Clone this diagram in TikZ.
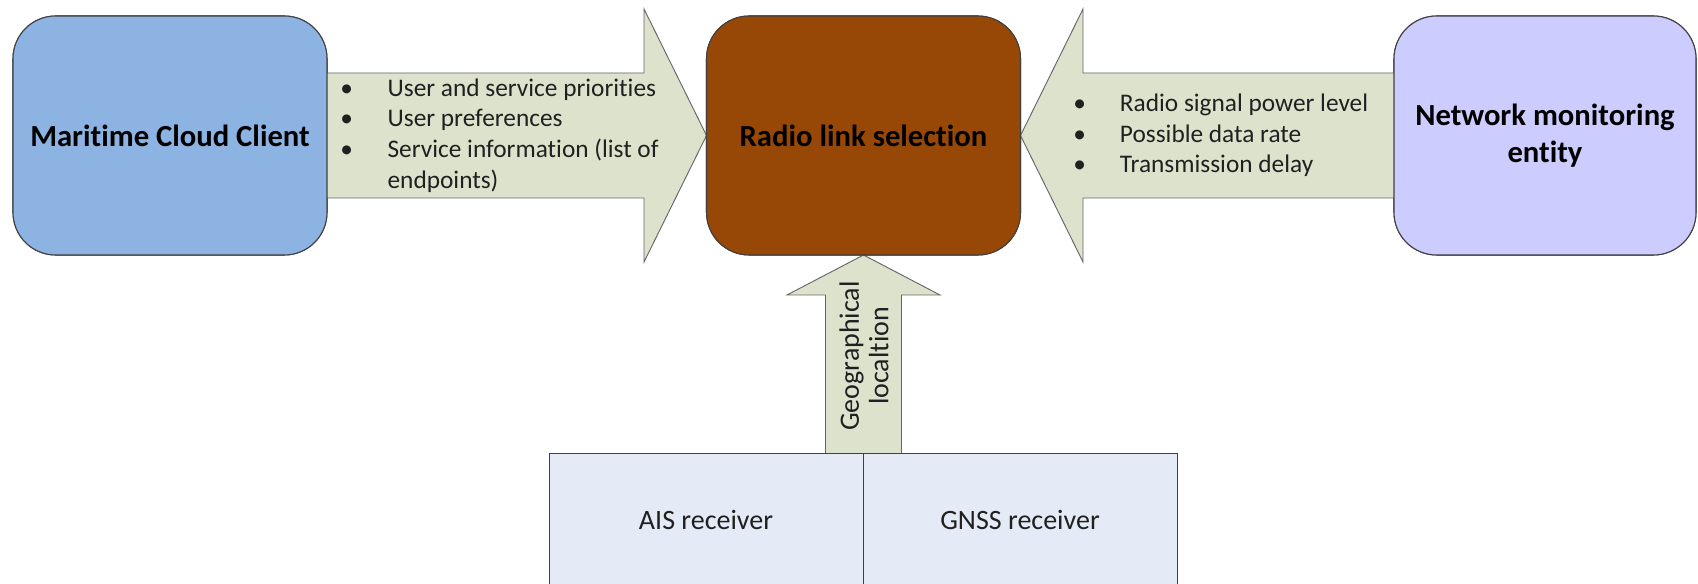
\documentclass[tikz,border=0pt]{standalone}
\usepackage{fontspec}
\setmainfont[Ligatures=NoCommon]{Carlito}
\usetikzlibrary{calc}
\definecolor{lblue}{HTML}{8DB3E2}
\definecolor{brownc}{HTML}{984806}
\definecolor{lilac}{HTML}{CCCCFF}
\definecolor{arrfill}{HTML}{DDE2CD}
\definecolor{recfill}{HTML}{E5EBF6}
\definecolor{edge}{HTML}{404040}
\definecolor{txt}{HTML}{202020}
\begin{document}
\begin{tikzpicture}[x=0.75pt,y=-0.75pt,
  rbox/.style={draw=edge, line width=0.8pt, rounded corners=32pt, inner sep=0pt, outer sep=0pt,
    minimum width={314*0.75pt}, minimum height={239*0.75pt}, align=center,
    font=\fontsize{23}{28}\selectfont\bfseries},
  recbox/.style={draw=edge, line width=0.7pt, fill=recfill, inner sep=0pt, outer sep=0pt,
    minimum width={314*0.75pt}, minimum height={134*0.75pt}, text=txt, font=\fontsize{21}{22}\selectfont},
  fatarrow/.style={draw=edge!80, line width=0.7pt, fill=arrfill, line join=miter},
  bulltext/.style={anchor=west, inner sep=0pt, align=left, text=txt, font=\fontsize{19}{23}\selectfont}
]
\clip (0,0) rectangle (1698,584);
\fill[white] (0,0) rectangle (1698,584);

% boxes (positions)
\path (170,135.5) node[rbox, fill=lblue] (client) {};
\path (863.5,135.5) node[rbox, fill=brownc] (radio) {};
\path (1545,135.5) node[rbox, fill=lilac, minimum width={302*0.75pt}] (netmon) {};

\coordinate (lhb) at (644,135.5);
\coordinate (rhb) at (1083,135.5);
\coordinate (uhb) at (863.5,295);
\coordinate (ubase) at (863.5,453);

% arrows (drawn before boxes)
\draw[fatarrow] ($(client.east)+(-5,-62.5)$) -- ($(lhb)+(0,-62.5)$) -- ($(lhb)+(0,-126.5)$)
  -- (radio.west) -- ($(lhb)+(0,126.5)$) -- ($(lhb)+(0,62.5)$) -- ($(client.east)+(-5,62.5)$) -- cycle;
\draw[fatarrow] ($(netmon.west)+(5,-62.5)$) -- ($(rhb)+(0,-62.5)$) -- ($(rhb)+(0,-126.5)$)
  -- (radio.east) -- ($(rhb)+(0,126.5)$) -- ($(rhb)+(0,62.5)$) -- ($(netmon.west)+(5,62.5)$) -- cycle;
\draw[fatarrow] ($(ubase)+(-38,5)$) -- ($(uhb)+(-38,0)$) -- ($(uhb)+(-76.5,0)$)
  -- (radio.south) -- ($(uhb)+(76.5,0)$) -- ($(uhb)+(38,0)$) -- ($(ubase)+(38,5)$) -- cycle;

% boxes on top
\path (170,135.5) node[rbox, fill=lblue] {Maritime Cloud Client};
\path (863.5,135.5) node[rbox, fill=brownc] {Radio link selection};
\path (1545,135.5) node[rbox, fill=lilac, minimum width={302*0.75pt}] {Network monitoring\\entity};

\node[recbox] (ais) at (706,520) {AIS receiver};
\node[recbox] (gnss) at (1020,520) {GNSS receiver};

% texts in arrows
\node[bulltext] (ltext) at (340,135.5) {%
\makebox[35.5pt][l]{\textbullet}User and service priorities\\
\makebox[35.5pt][l]{\textbullet}User preferences\\
\makebox[35.5pt][l]{\textbullet}Service information (list of\\
\hspace*{35.5pt}endpoints)};
\node[bulltext] (rtext) at (1073,135.5) {%
\makebox[35pt][l]{\textbullet}Radio signal power level\\
\makebox[35pt][l]{\textbullet}Possible data rate\\
\makebox[35pt][l]{\textbullet}Transmission delay};
\node[rotate=90, align=center, inner sep=0pt, text=txt, font=\fontsize{21}{22}\selectfont] (geo) at (864,356) {Geographical\\localtion};
\end{tikzpicture}
\end{document}
